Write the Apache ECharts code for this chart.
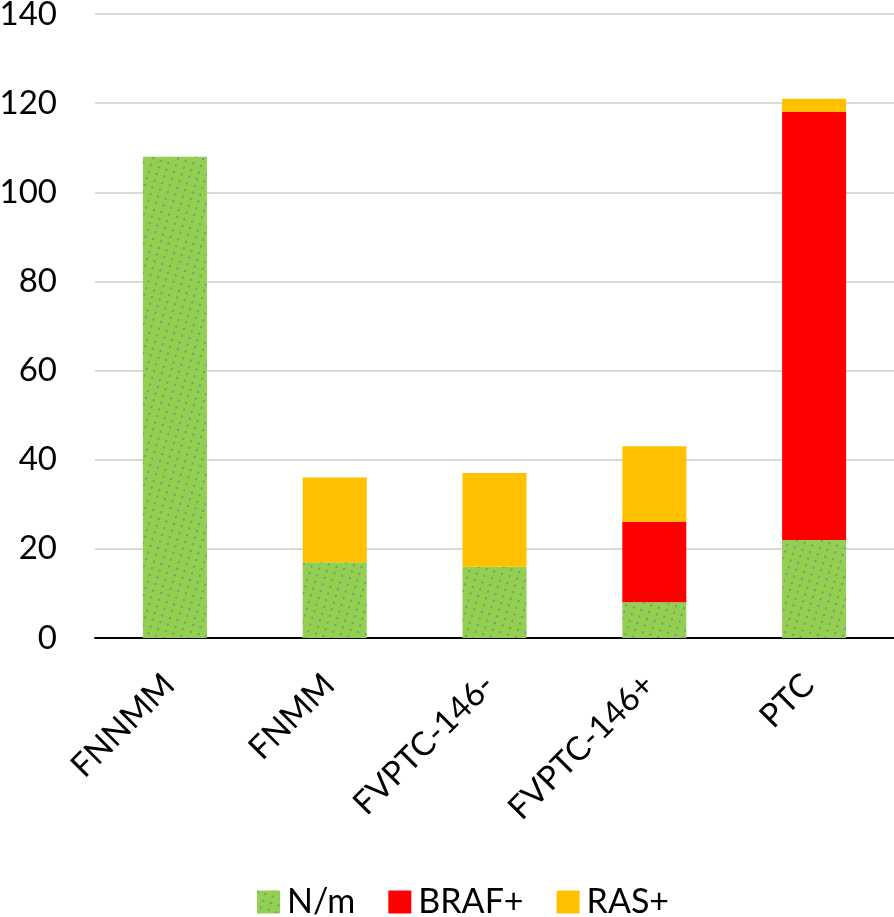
<!DOCTYPE html>
<html>
<head>
<meta charset="utf-8">
<script src="https://cdn.jsdelivr.net/npm/echarts@6/dist/echarts.min.js"></script>
<style>
  html, body { margin: 0; padding: 0; background: #fff; }
</style>
</head>
<body>
<div id="myChart" style="width: 894px; height: 917px;"></div>
<script>
var categories = ["FNNMM", "FNMM", "FVPTC-146-", "FVPTC-146+", "PTC"];
var nmValues = [108, 17, 16, 8, 22];
var brafValues = [0, 0, 0, 18, 96];
var rasValues = [0, 19, 21, 17, 3];
var yTicks = { min: 0, max: 140, interval: 20 };

var myChart = echarts.init(document.getElementById("myChart"));
var font = "Lato, 'Open Sans', sans-serif";

myChart.setOption({
  color: ["#92d050", "#ff0000", "#ffc000"],
  animation: false,
  grid: {
    left: 95,
    right: 0,
    top: 14,
    bottom: 279,
    outerBoundsMode: "none"
  },
  legend: {
    data: ["N/m", "BRAF+", "RAS+"],
    top: 880,
    left: 252,
    itemWidth: 23,
    itemHeight: 23,
    itemGap: 33,
    icon: "rect",
    textStyle: { color: "#000", fontSize: 34, fontFamily: font, padding: [0, 0, 0, 2] }
  },
  xAxis: {
    type: "category",
    data: categories,
    axisLine: { lineStyle: { color: "#000", width: 2 } },
    axisTick: { show: false },
    axisLabel: {
      rotate: 45,
      color: "#000",
      fontSize: 33,
      fontFamily: font,
      padding: [0, 8, 0, 0],
      margin: 36
    }
  },
  yAxis: {
    type: "value",
    min: yTicks.min,
    max: yTicks.max,
    interval: yTicks.interval,
    axisLine: { show: false },
    axisTick: { show: false },
    axisLabel: { color: "#000", fontSize: 33, fontFamily: font, margin: 38 },
    splitLine: { lineStyle: { color: "#d9d9d9", width: 2 } }
  },
  series: [
    {
      name: "N/m",
      type: "bar",
      stack: "total",
      barWidth: 64,
      data: nmValues,
      itemStyle: {
        decal: {
          symbol: "rect",
          symbolSize: 1,
          color: "rgba(125,105,175,0.6)",
          dashArrayX: [[1.5, 6]],
          dashArrayY: [1.5, 5],
          rotation: 0.3
        }
      }
    },
    {
      name: "BRAF+",
      type: "bar",
      stack: "total",
      barWidth: 64,
      data: brafValues
    },
    {
      name: "RAS+",
      type: "bar",
      stack: "total",
      barWidth: 64,
      data: rasValues
    }
  ]
});
</script>
</body>
</html>
